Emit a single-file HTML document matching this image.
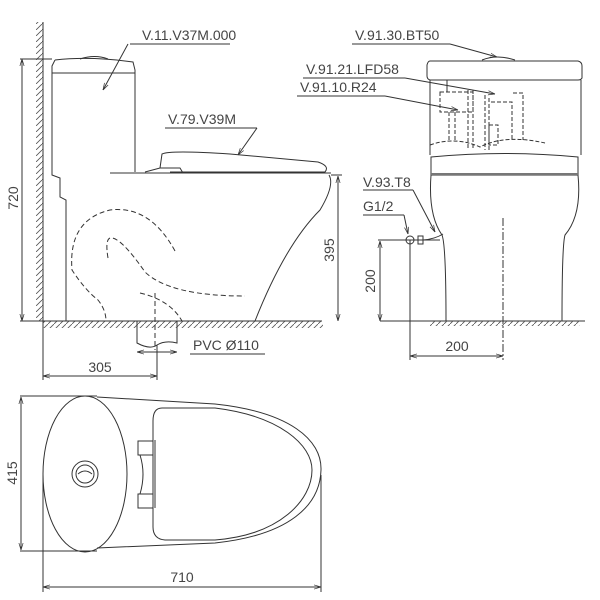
<!DOCTYPE html>
<html><head><style>body{margin:0;background:#fff}svg{display:block}text{font-family:"Liberation Sans",sans-serif;fill:#444;stroke:none;font-size:14px}</style></head><body>
<svg width="600" height="600" viewBox="0 0 600 600" fill="none" stroke="#333" stroke-width="1">
<defs>
<pattern id="h" width="6" height="6" patternUnits="userSpaceOnUse"><path d="M0 6L6 0" stroke="#555" stroke-width="0.8"/></pattern>
<marker id="a" viewBox="0 0 10 10" refX="10" refY="5" markerWidth="7" markerHeight="7" orient="auto-start-reverse"><path d="M0 2L10 5L0 8" stroke="#333"/></marker>
</defs>
<!-- LEFT VIEW -->
<rect x="36" y="22" width="7" height="299" fill="url(#h)" stroke="none"/>
<line x1="43" y1="22" x2="43" y2="321"/>
<rect x="43" y="321" width="280" height="7" fill="url(#h)" stroke="none"/>
<line x1="20" y1="321" x2="322" y2="321"/>
<line x1="20" y1="59" x2="52" y2="59"/>
<line x1="22" y1="59" x2="22" y2="321" marker-start="url(#a)" marker-end="url(#a)"/>
<text x="18" y="198" transform="rotate(-90 18 198)" text-anchor="middle">720</text>
<path d="M55 60 Q90 56 133 62 L135 70 L135 172 M55 60 L52 66 L52 175 L60 178 L60 197 L66 200 L66 321"/>
<line x1="52" y1="73" x2="135" y2="73"/>
<path d="M80 59 Q95 54 108 59"/>
<line x1="110" y1="173" x2="331" y2="173"/>
<path d="M145 172 L160 168 L180 168 L183 173 M160 168 L162 154 Q170 150 230 154 L318 162 Q330 166 325 172 L170 172"/>
<path d="M329 175 Q335 185 320 210 Q285 245 255 321"/>
<line x1="331" y1="175" x2="342" y2="175"/>
<line x1="338" y1="176" x2="338" y2="321" marker-start="url(#a)" marker-end="url(#a)"/>
<text x="334" y="250" transform="rotate(-90 334 250)" text-anchor="middle">395</text>
<path d="M175 251 Q150 205 110 210 Q68 220 72 270 Q85 290 98 300 Q106 310 106 321 M108 258 Q105 240 110 238 Q120 236 145 272 Q170 296 245 296 M140 293 Q170 300 182 321 M155 293 L155 350" stroke-dasharray="5 3"/>
<path d="M137 321 L137 343 Q150 350 157 345 Q165 340 177 343 L177 321"/>
<line x1="137" y1="352" x2="177" y2="352" marker-start="url(#a)" marker-end="url(#a)"/>
<text x="193" y="350">PVC Ø110</text><line x1="190" y1="354" x2="265" y2="354"/>
<line x1="43" y1="321" x2="43" y2="380"/>
<line x1="157" y1="345" x2="157" y2="380"/>
<line x1="43" y1="376" x2="157" y2="376" marker-start="url(#a)" marker-end="url(#a)"/>
<text x="100" y="372" text-anchor="middle">305</text>
<text x="142" y="40">V.11.V37M.000</text><line x1="130" y1="44" x2="230" y2="44"/>
<line x1="128" y1="44" x2="103" y2="90" marker-end="url(#a)"/>
<text x="168" y="124">V.79.V39M</text><line x1="165" y1="128" x2="257" y2="128"/>
<line x1="257" y1="128" x2="238" y2="155" marker-end="url(#a)"/>
<!-- RIGHT VIEW -->
<path d="M430 61 L578 61 Q582 62 582 66 L582 78 Q581 80 578 80 L430 80 Q427 79 427 76 L427 65 Q428 61 430 61"/>
<path d="M482 60 Q497 54 515 60"/>
<line x1="430" y1="80" x2="430" y2="155"/><line x1="581" y1="80" x2="581" y2="155"/>
<path d="M431 157 Q505 150 578 157 L578 175 L431 175 Z"/>
<line x1="431" y1="174" x2="578" y2="174" stroke-width="2" stroke="#777"/>
<path d="M431 175 Q428 215 442 235 Q446 245 446 321 M578 175 Q582 215 565 235 Q562 245 562 321"/>
<g stroke-dasharray="4 2"><rect x="440" y="92" width="33" height="20"/><path d="M449 112 L449 140 M455 112 L455 140 M468 90 L468 148 M473 90 L473 148 M485 95 L485 150 M489 98 L489 150 M491 102 L512 102 L512 140 M513 93 L523 93 L523 140 M430 145 Q455 136 480 147 Q505 134 545 143"/><rect x="489" y="125" width="9" height="20"/></g>
<line x1="447" y1="80" x2="447" y2="92"/>
<line x1="380" y1="321" x2="585" y2="321"/>
<rect x="430" y="321" width="150" height="5" fill="url(#h)" stroke="none"/>
<line x1="503" y1="218" x2="503" y2="360" stroke-dasharray="8 2 2 2"/>
<line x1="378" y1="240" x2="440" y2="240"/>
<line x1="380" y1="241" x2="380" y2="321" marker-start="url(#a)" marker-end="url(#a)"/>
<text x="375" y="281" transform="rotate(-90 375 281)" text-anchor="middle">200</text>
<line x1="410" y1="240" x2="410" y2="360"/>
<line x1="410" y1="356" x2="503" y2="356" marker-start="url(#a)" marker-end="url(#a)"/>
<text x="457" y="351" text-anchor="middle">200</text>
<circle cx="410" cy="240" r="4"/><rect x="418" y="236" width="5" height="8"/>
<path d="M423 240 Q435 239 443 234"/>
<text x="363" y="187">V.93.T8</text><line x1="363" y1="190" x2="413" y2="190"/>
<line x1="413" y1="190" x2="435" y2="232" marker-end="url(#a)"/>
<text x="363" y="211">G1/2</text><line x1="363" y1="215" x2="404" y2="215"/>
<line x1="404" y1="215" x2="408" y2="234" marker-end="url(#a)"/>
<text x="355" y="40">V.91.30.BT50</text><line x1="352" y1="44" x2="450" y2="44"/>
<line x1="450" y1="44" x2="497" y2="57" marker-end="url(#a)"/>
<text x="306" y="74">V.91.21.LFD58</text><line x1="303" y1="78" x2="405" y2="78"/>
<line x1="405" y1="78" x2="495" y2="94" marker-end="url(#a)"/>
<text x="300" y="92">V.91.10.R24</text><line x1="297" y1="96" x2="385" y2="96"/>
<line x1="385" y1="96" x2="458" y2="110" marker-end="url(#a)"/>
<!-- TOP VIEW -->
<ellipse cx="85" cy="474" rx="42" ry="78"/>
<circle cx="85" cy="474" r="13"/><circle cx="85" cy="474" r="9"/>
<path d="M78 474 Q85 468 92 474"/>
<path d="M97 397 L215 404 C290 412 322 440 321 470 C320 505 290 535 215 543 L97 548"/>
<path d="M162 408 L215 408 C280 416 312 445 312 470 C312 500 280 535 215 540 L165 540 Q153 539 153 527 L153 421 Q153 408 162 408 Z"/>
<line x1="155" y1="440" x2="155" y2="508"/>
<rect x="138" y="441" width="15" height="14"/><rect x="138" y="494" width="15" height="14"/>
<path d="M140 455 Q146 474 140 494"/>
<line x1="20" y1="396" x2="97" y2="396"/><line x1="20" y1="551" x2="97" y2="551"/>
<line x1="21" y1="397" x2="21" y2="550" marker-start="url(#a)" marker-end="url(#a)"/>
<text x="17" y="473" transform="rotate(-90 17 473)" text-anchor="middle">415</text>
<line x1="43" y1="475" x2="43" y2="592"/><line x1="321" y1="475" x2="321" y2="592"/>
<line x1="43" y1="587" x2="321" y2="587" marker-start="url(#a)" marker-end="url(#a)"/>
<text x="182" y="582" text-anchor="middle">710</text>
</svg>
</body></html>
